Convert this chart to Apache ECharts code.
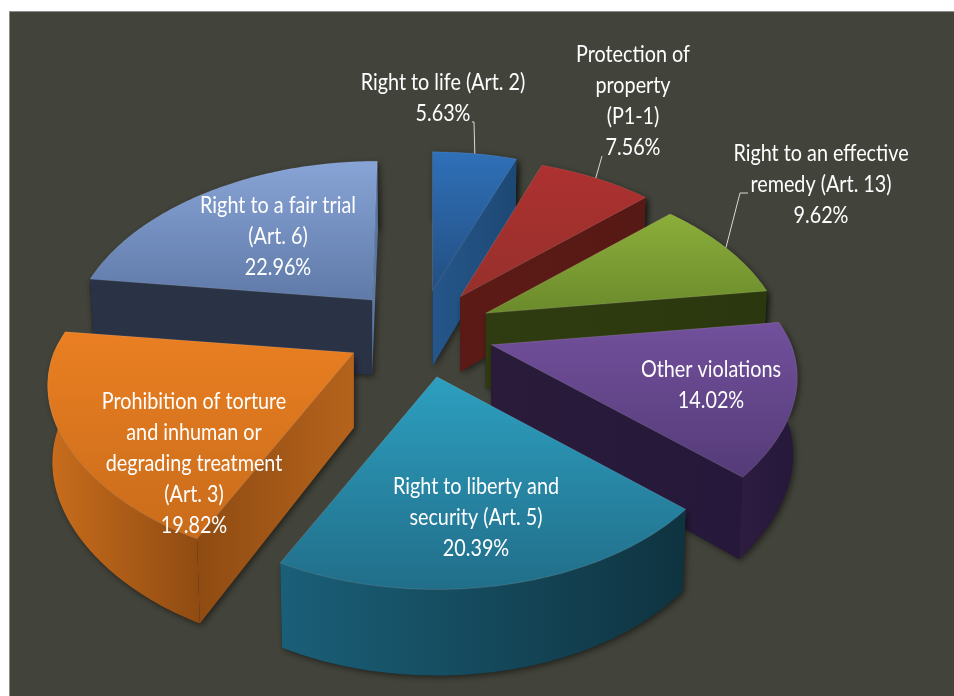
<!DOCTYPE html>
<html>
<head>
<meta charset="utf-8">
<style>html,body{margin:0;padding:0;background:#fff}#c{width:954px;height:696px}</style>
<script src="https://cdn.jsdelivr.net/npm/echarts@6/dist/echarts.min.js"></script>
</head>
<body>
<div id="c"></div>
<script>
// ---- data ----
const categories = [
  "Right to life (Art. 2)",
  "Protection of\nproperty\n(P1-1)",
  "Right to an effective\nremedy (Art. 13)",
  "Other violations",
  "Right to liberty and\nsecurity (Art. 5)",
  "Prohibition of torture\nand inhuman or\ndegrading treatment\n(Art. 3)",
  "Right to a fair trial\n(Art. 6)"
];
const shares = [5.63, 7.56, 9.62, 14.02, 20.39, 19.82, 22.96];

// ---- styles / layout ----
const topColors = [["#2f70b8","#234f82"],["#ad3130","#96302b"],["#8cae3a","#6b8a2c"],["#72509c","#553b78"],["#2d9fc0","#216e89"],["#ea7f22","#c96c1b"],["#88a4d6","#5f7aa8"]];
const arcColors = [["#1f4a78","#1f4a78"],["#5c1a16","#5c1a16"],["#35420f","#2b380e"],["#2d1d40","#25183a"],["#1a5f78","#0f3340"],["#c96d1c","#8f4b12"],["#2a3346","#2a3346"]];
const startCut = [["#25568a","#1d4874"],["#5c1a16","#571915"],["#2f3b10","#2b370e"],["#2a1b3a","#25183a"],["#17566c","#123f4f"],["#8f4b12","#b5631c"],["#2a3346","#2a3346"]];
const endCut = [["#25568a","#1d4874"],["#5c1a16","#571915"],["#2f3b10","#2b370e"],["#2a1b3a","#25183a"],["#17566c","#123f4f"],["#8f4b12","#b5631c"],["#5f7aa8","#5a74a0"]];
const labelAt = [[443,98],[633,101],[821,185],[711,385],[476,518],[194,464],[278,237]];
const leaders = [[[474,122],[472,122]],[[602,156]],[[740,193],[748,193]],null,null,null,null];
const nudgeX = [0,0,-1,-2,2,2,0];
const widen = [0,0,0.01,0.035,0,0.035,0.01];
const CX = 420, CY = 331.5, RX = 290, RY = 168, K = 0.21, EXPLODE = 0.26, DEPTH = 75, AXIS = 432;

const rad = d => d * Math.PI / 180;
const total = shares.reduce((a, b) => a + b, 0);
let acc = 0;
const slices = shares.map(v => {
  const a0 = acc / total * 360; acc += v; const a1 = acc / total * 360;
  return { a0, a1, mid: (a0 + a1) / 2 };
});
function proj(deg, r) {
  const X = r * Math.sin(rad(deg)), Y = r * Math.cos(rad(deg)), s = 1 / (1 + K * Y);
  return { x: X * RX * s, y: -Y * RY * s, s };
}
function render(params, api) {
  const i = params.dataIndex, sl = slices[i];
  const ap = proj(sl.mid, EXPLODE), ax = CX + ap.x + nudgeX[i], ay = CY + ap.y;
  const order = slices.map((q, j) => [Math.cos(rad(q.mid)), j]).sort((p, q) => q[0] - p[0]).findIndex(p => p[1] === i);
  const base = order * 10 + 10;
  const pt = (deg, r) => {
    const p = proj(deg, r);
    const w = 1 + widen[i] * Math.pow(Math.sin(rad(deg)), 4);
    return [ax + p.x * w + (ax - AXIS) * Math.min(p.s - 1, 0) * 0.5, ay + p.y, p.s];
  };
  const down = q => [AXIS + (q[0] - AXIS) * 0.988, q[1] + DEPTH * (0.45 + 0.55 * q[2])];
  const A = [ax, ay, 1], Ab = [ax, ay + DEPTH];
  const arc = [];
  for (let d = sl.a0; d < sl.a1; d += 1) arc.push(pt(d, 1));
  arc.push(pt(sl.a1, 1));
  const grad = (c, x, y) => new echarts.graphic.LinearGradient(0, 0, x, y, [{ offset: 0, color: c[0] }, { offset: 1, color: c[1] }]);
  const shadow = { fill: '#222', shadowBlur: 6, shadowColor: 'rgba(0,0,0,0.5)', shadowOffsetX: 2, shadowOffsetY: 2 };
  const kids = [];
  const wall = (pts, fill, z) => {
    kids.push({ type: 'polygon', z2: base, shape: { points: pts }, style: Object.assign({}, shadow) });
    kids.push({ type: 'polygon', z2: base + z, shape: { points: pts }, style: { fill } });
  };
  // outer wall
  wall(arc.map(q => [q[0], q[1]]).concat(arc.slice().reverse().map(down)), grad(arcColors[i], 1, 0), 1);
  // radial cut walls, drawn only if they face the viewer
  const C = pt(sl.mid, 0.5);
  [[arc[0], startCut[i]], [arc[arc.length - 1], endCut[i]]].forEach(([B, col]) => {
    const nx = -(B[1] - A[1]), ny = B[0] - A[0];
    const sideC = nx * (C[0] - A[0]) + ny * (C[1] - A[1]);
    if (ny * sideC < 0) wall([[A[0], A[1]], [B[0], B[1]], down(B), Ab], grad(col, 1, 0), 2);
  });
  // top face
  kids.push({ type: 'polygon', z2: base + 3, shape: { points: [[A[0], A[1]]].concat(arc.map(q => [q[0], q[1]])) },
    style: { fill: grad(topColors[i], 0, 1), stroke: 'rgba(255,255,255,0.14)', lineWidth: 0.8 } });
  // label
  const txt = categories[i] + '\n' + shares[i].toFixed(2) + '%';
  kids.push({ type: 'text', z2: 1000, x: labelAt[i][0], y: labelAt[i][1], scaleX: 0.86, style: { text: txt, x: 0, y: 0, align: 'center', verticalAlign: 'middle',
    fill: '#fff', font: '23px "Lato",sans-serif', lineHeight: 31 } });
  if (leaders[i]) {
    const R = pt(sl.mid, 1);
    kids.push({ type: 'polyline', z2: 1000, shape: { points: [[R[0], R[1]]].concat(leaders[i]) }, style: { fill: null, stroke: '#d8d8d8', lineWidth: 1 } });
  }
  return { type: 'group', children: kids };
}
const chart = echarts.init(document.getElementById('c'), null, { renderer: 'canvas' });
chart.setOption({
  animation: false,
  backgroundColor: '#ffffff',
  graphic: [{ type: 'rect', z: -1, shape: { x: 9.5, y: 11.5, width: 960, height: 700 }, style: { fill: '#42433a', stroke: '#8d8d88', lineWidth: 1 } }],
  series: [{
    type: 'custom',
    coordinateSystem: 'none',
    renderItem: render,
    clip: false,
    data: categories.map((c, i) => ({ name: c, value: shares[i] }))
  }]
});
</script>
</body>
</html>
